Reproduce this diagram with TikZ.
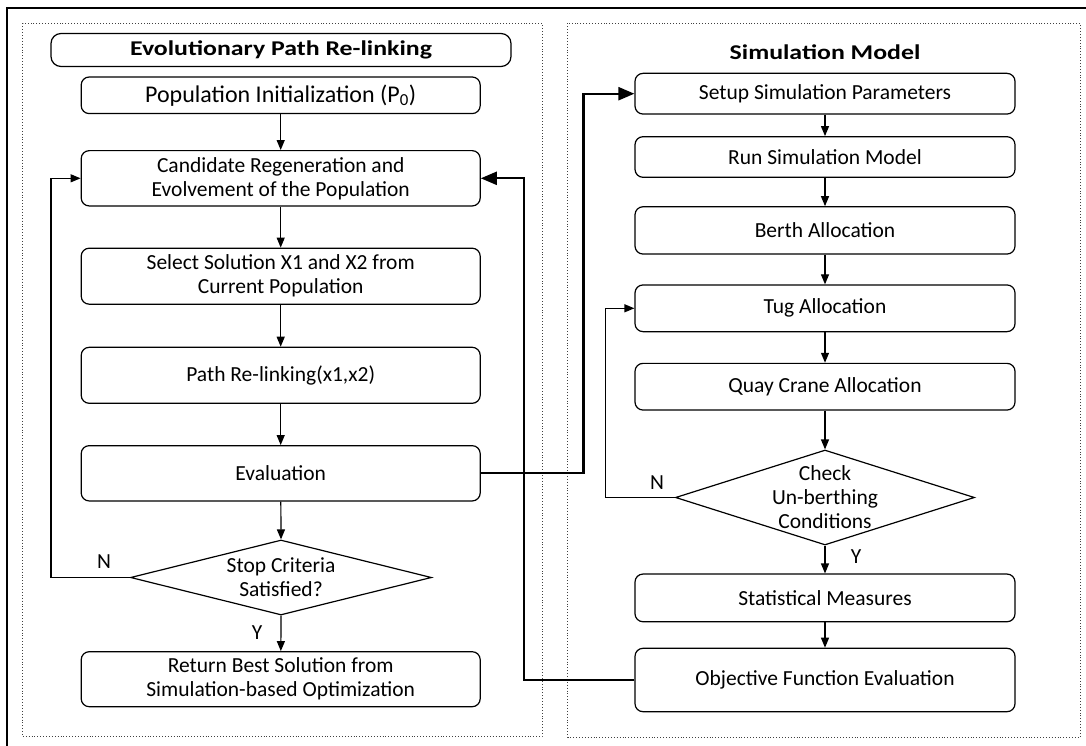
\documentclass[tikz,border=0pt]{standalone}
\usepackage{fontspec}
\setmainfont{Carlito}
\newfontfamily\titlefont[FakeStretch=1.23]{Carlito Bold}
\usetikzlibrary{arrows.meta,shapes.geometric}
\begin{document}
\begin{tikzpicture}[x=1pt,y=-1pt,
  box/.style={draw, line width=1.2pt, rounded corners=8pt, align=center, font=\fontsize{21.5}{24}\selectfont, inner sep=0pt},
  lbox/.style={box, minimum width=399pt},
  rbox/.style={box, minimum width=380pt},
  dec/.style={draw, diamond, line width=1.2pt, inner sep=0pt},
  txt/.style={align=center, font=\fontsize{21.5}{24}\selectfont, inner sep=0pt},
  ttl/.style={font=\titlefont\fontsize{21}{24}\selectfont},
  panel/.style={draw=black!75, dotted, line width=0.9pt},
  flow/.style={line width=1.2pt, -{Triangle[length=10pt,width=8pt]}},
  bigflow/.style={line width=2.2pt, -{Triangle[length=16pt,width=13pt]}},
  frame/.style={line width=1.5pt}
]
\useasboundingbox (0,0) rectangle (1086,746);
% outer frame (left and top edges)
\coordinate (f1) at (7,746);
\coordinate (f2) at (7,8);
\coordinate (f3) at (1086,8);
\draw[frame] (f1) -- (f2) -- (f3);
% panels
\draw[panel] (22.7,23.5) rectangle (542,736.7);
\draw[panel] (567.5,23.5) rectangle (1080.3,737);

% left column
\node[box, minimum width=460pt, minimum height=33pt, rounded corners=10pt, ttl] (title) at (281,50) {Evolutionary Path Re-linking};
\node[lbox, minimum height=36.6pt, font=\fontsize{24}{28}\selectfont] (pop) at (280.7,95.3) {Population Initialization (P\textsubscript{0})};
\node[lbox, minimum height=55.3pt] (cand) at (280.7,178.3) {Candidate Regeneration and\\Evolvement of the Population};
\node[lbox, minimum height=56pt] (sel) at (280.7,276.2) {Select Solution X1 and X2 from\\Current Population};
\node[lbox, minimum height=56pt] (path) at (280.7,375.3) {Path Re-linking(x1,x2)};
\node[lbox, minimum height=55.3pt] (eval) at (280.7,473.3) {Evaluation};
\node[dec, minimum width=301pt, minimum height=75pt] (stop) at (281,577.5) {};
\node[txt] (stopt) at (stop.center) {Stop Criteria\\Satisfied?};
\node[lbox, minimum height=55pt] (ret) at (280.7,679.2) {Return Best Solution from\\Simulation-based Optimization};

% right column
\node[txt, ttl] (simtitle) at (825,52) {Simulation Model};
\node[rbox, minimum height=40.7pt] (setup) at (825,93.7) {Setup Simulation Parameters};
\node[rbox, minimum height=40.6pt] (run) at (825,157) {Run Simulation Model};
\node[rbox, minimum height=47.3pt] (berth) at (825,230.4) {Berth Allocation};
\node[rbox, minimum height=46.7pt] (tug) at (825,308.3) {Tug Allocation};
\node[rbox, minimum height=46.7pt] (quay) at (825,386.7) {Quay Crane Allocation};
\node[dec, minimum width=299pt, minimum height=95pt] (chk) at (825,497.5) {};
\node[txt] (chkt) at (chk.center) {Check\\Un-berthing\\Conditions};
\node[rbox, minimum height=47.7pt] (stat) at (825,597.9) {Statistical Measures};
\node[rbox, minimum height=63.4pt] (obj) at (825,680) {Objective Function Evaluation};

% labels
\node[txt] (n1) at (104,562) {N};
\node[txt] (y1) at (257,633) {Y};
\node[txt] (n2) at (657,483) {N};
\node[txt] (y2) at (856,557) {Y};

% left flows
\draw[flow] (pop) -- (cand);
\draw[flow] (cand) -- (sel);
\draw[flow] (sel) -- (path);
\draw[flow] (path) -- (eval);
\draw[flow] (eval) -- (stop.north);
\draw[flow] (stop.south) -- (ret);
\coordinate (sL) at (51,577.5);
\draw[flow] (stop.west) -- (sL) |- (cand.west);

% right flows
\draw[flow] (setup) -- (run);
\draw[flow] (run) -- (berth);
\draw[flow] (berth) -- (tug);
\draw[flow] (tug) -- (quay);
\draw[flow] (quay) -- (chk.north);
\draw[flow] (chk.south) -- (stat);
\draw[flow] (stat) -- (obj);
\coordinate (cL) at (605.3,497.5);
\draw[flow] (chk.west) -- (cL) |- (tug.west);

% cross flows
\coordinate (eR) at (583.5,473.3);
\draw[bigflow] (eval.east) -- (eR) |- (setup.west);
\coordinate (oL) at (524,680);
\draw[bigflow] (obj.west) -- (oL) |- (cand.east);
\end{tikzpicture}
\end{document}
